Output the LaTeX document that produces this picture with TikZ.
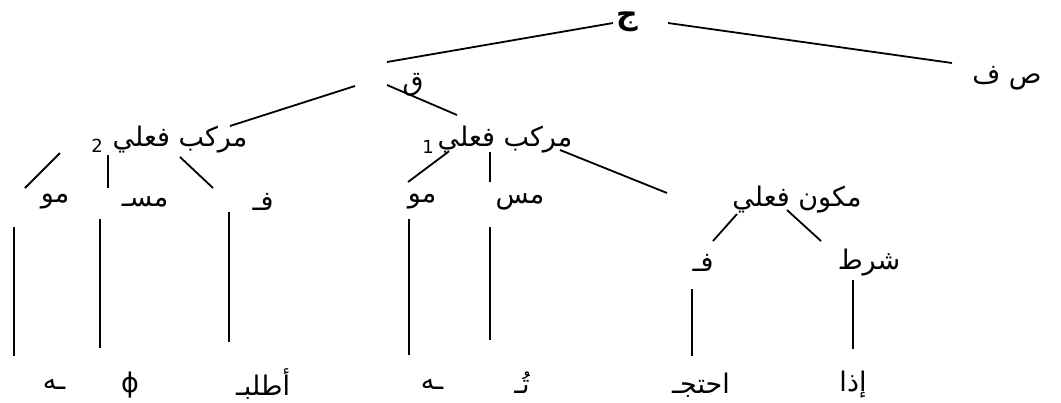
\documentclass[tikz,border=0pt]{standalone}
\usepackage{fontspec}
\TeXXeTstate=1
\newfontfamily\arabicfont[Script=Arabic]{DejaVu Sans}
\begin{document}
\begin{tikzpicture}[x=1pt,y=-1pt,
  lbl/.style={inner sep=0pt, font=\arabicfont\fontsize{27}{30}\selectfont},
  toplbl/.style={inner sep=0pt, font=\arabicfont\bfseries\fontsize{30}{32}\selectfont},
  num/.style={inner sep=0pt, font=\arabicfont\fontsize{18}{20}\selectfont},
  edge/.style={line width=1.8pt}]
\useasboundingbox[fill=white] (0,0) rectangle (1061,402);

% nodes
\node[toplbl] (J) at (627,22) {\beginR ج\endR};
\node[lbl] (SF) at (1007,78) {\beginR ص ف\endR};
\node[lbl] (Q) at (413,85) {\beginR ق\endR};
\node[lbl] (MF2) at (180,140) {\beginR مركب فعلي\endR};
\node[num] (MF2n) at (97,146) {2};
\node[lbl] (MF1) at (505,140) {\beginR مركب فعلي\endR};
\node[num] (MF1n) at (428,147) {1};
\node[lbl] (MKF) at (797,200) {\beginR مكون فعلي\endR};
\node[lbl] (MO2) at (55,202) {\beginR مو\endR};
\node[lbl] (MSD) at (145,202) {\beginR مسـ\endR};
\node[lbl] (F2) at (263,202) {\beginR فـ\endR};
\node[lbl] (MO1) at (422,202) {\beginR مو\endR};
\node[lbl] (MS) at (520,202) {\beginR مس\endR};
\node[lbl] (F1) at (703,263) {\beginR فـ\endR};
\node[lbl] (SH) at (869,263) {\beginR شرط\endR};
% leaves
\node[lbl] (L1) at (54,385) {\beginR ـه\endR};
\node[lbl] (L2) at (130,385) {ϕ};
\node[lbl] (L3) at (263,384) {\beginR أطلبـ\endR};
\node[lbl] (L4) at (432,385) {\beginR ـه\endR};
\node[lbl] (L5) at (522,383) {\beginR تُـ\endR};
\node[lbl] (L6) at (701,385) {\beginR احتجـ\endR};
\node[lbl] (L7) at (853,385) {\beginR إذا\endR};

% connector end points
\coordinate (J-l) at (613,23);   \coordinate (Q-u) at (387,62);
\coordinate (J-r) at (668,23);   \coordinate (SF-u) at (952,63);
\coordinate (Q-l) at (355,86);   \coordinate (MF2-u) at (230,126);
\coordinate (Q-r) at (387,85);   \coordinate (MF1-u) at (457,115);
\coordinate (MF2-a) at (60,153); \coordinate (MO2-u) at (25,188);
\coordinate (MF2-b) at (108,155);\coordinate (MSD-u) at (108,188);
\coordinate (MF2-c) at (180,157);\coordinate (F2-u) at (213,188);
\coordinate (MF1-a) at (448,152);\coordinate (MO1-u) at (408,182);
\coordinate (MF1-b) at (490,152);\coordinate (MS-u) at (490,182);
\coordinate (MF1-c) at (560,150);\coordinate (MKF-u) at (667,193);
\coordinate (MKF-a) at (737,214);\coordinate (F1-u) at (713,241);
\coordinate (MKF-b) at (787,210);\coordinate (SH-u) at (821,241);
\coordinate (MO2-d) at (14,227); \coordinate (L1-u) at (14,356);
\coordinate (MSD-d) at (100,219);\coordinate (L2-u) at (100,348);
\coordinate (F2-d) at (229,212); \coordinate (L3-u) at (229,342);
\coordinate (MO1-d) at (409,219);\coordinate (L4-u) at (409,355);
\coordinate (MS-d) at (490,227); \coordinate (L5-u) at (490,340);
\coordinate (F1-d) at (692,289); \coordinate (L6-u) at (692,356);
\coordinate (SH-d) at (853,280); \coordinate (L7-u) at (853,349);

% connectors
\draw[edge] (J-l) -- (Q-u);
\draw[edge] (J-r) -- (SF-u);
\draw[edge] (Q-l) -- (MF2-u);
\draw[edge] (Q-r) -- (MF1-u);
\draw[edge] (MF2-a) -- (MO2-u);
\draw[edge] (MF2-b) -- (MSD-u);
\draw[edge] (MF2-c) -- (F2-u);
\draw[edge] (MF1-a) -- (MO1-u);
\draw[edge] (MF1-b) -- (MS-u);
\draw[edge] (MF1-c) -- (MKF-u);
\draw[edge] (MKF-a) -- (F1-u);
\draw[edge] (MKF-b) -- (SH-u);
\draw[edge] (MO2-d) -- (L1-u);
\draw[edge] (MSD-d) -- (L2-u);
\draw[edge] (F2-d) -- (L3-u);
\draw[edge] (MO1-d) -- (L4-u);
\draw[edge] (MS-d) -- (L5-u);
\draw[edge] (F1-d) -- (L6-u);
\draw[edge] (SH-d) -- (L7-u);
\end{tikzpicture}
\end{document}
